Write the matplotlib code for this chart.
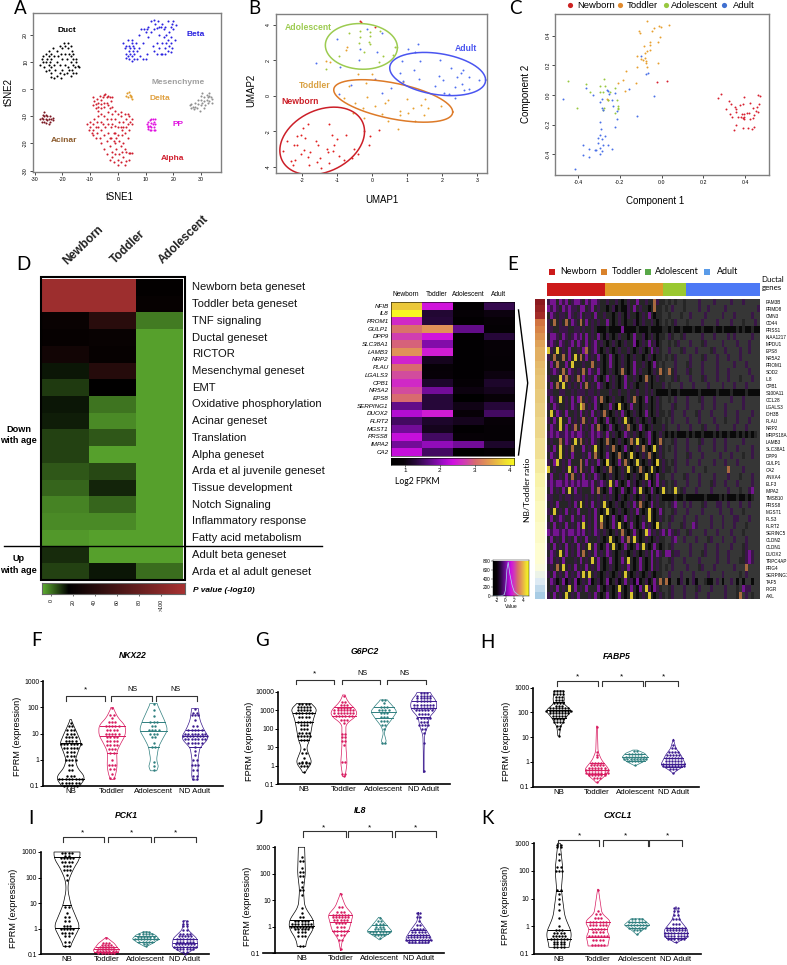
import numpy as np
import matplotlib
matplotlib.use('Agg')
import matplotlib.pyplot as plt
from matplotlib.colors import LinearSegmentedColormap, ListedColormap
from matplotlib.patches import Rectangle
from matplotlib.ticker import NullLocator
from matplotlib.transforms import ScaledTranslation

plt.rcParams['font.family'] = ['Liberation Sans', 'DejaVu Sans']
plt.rcParams['axes.unicode_minus'] = False

W, H = 787, 965

# ---- panel A: tSNE clusters
duct = [(-28,9),(-27,10),(-27,12),(-26.5,8),(-26,10),(-26,13),(-25.5,11),(-25,7),(-25,9),(-25,12),(-25,14),(-24.5,10),(-24,6),(-24,8),(-24,11),(-24,13),(-23.5,15),(-23,9),(-23,12),(-23,4),(-22.5,7),(-22,5),(-22,10),(-22,14),(-21.5,12),(-21,6),(-21,9),(-21,16),(-20.5,4),(-20.5,13),(-20,7),(-20,11),(-20,15),(-19.5,5.5),(-19.5,17),(-19,9),(-19,13),(-19,16),(-18.5,11),(-18.5,6),(-18,15),(-18,17),(-18,8),(-17.5,13),(-17.5,7),(-17,10),(-17,12),(-17,16),(-17,5),(-16.5,7),(-16.5,14),(-16,9),(-16,11),(-16,13),(-16,6),(-15.5,8),(-15,10),(-15,11),(-15,6),(-14.5,8.5),(-14,8),(-24,4.5),(-26,6.5),(-27.5,11)]
beta = [(2,17),(2.5,15),(3,13),(3,16),(3,11.5),(3.5,18),(3.5,12),(4,14),(4,16),(4,11),(4.5,15),(4.5,13),(5,17),(5,18),(5,12),(5,10.5),(5.5,14),(5.5,16),(6,15),(6,11),(6,13),(6.5,17),(7,14),(7,11),(7.5,15),(7.5,20),(8,12),(8.5,22),(9,11),(9,17),(9.5,22),(10,11),(10,21),(10.5,22),(10.5,13),(11,19),(11,23),(12,21),(12,25),(12.5,16),(13,22),(13,14),(13,25.5),(13.5,24),(14,22.5),(14,17),(14,13),(14.5,25),(15,23),(15,20),(15,15),(15.5,23),(15.5,13),(16,24),(16,17),(16,13),(16.5,22),(16.5,19),(17,15),(17,23),(17,13),(17.5,20),(17.5,17),(18,25),(18,14),(18,18),(18.5,21),(18.5,16),(19,23),(19,17),(19,19),(19.5,24),(19.5,15),(20,22),(20,25),(21,23.5),(20.5,18),(19,13.5)]
alpha = [(-9,-3),(-9,-6),(-8.5,-4.5),(-8,-5.5),(-8,-7),(-7.5,-3.5),(-7,-5),(-7,-6.5),(-6.5,-2.5),(-6,-4),(-6,-5.5),(-6,-7),(-5.5,-3),(-5,-2),(-5,-5),(-5,-6.5),(-4.5,-1.8),(-4,-3),(-4,-5),(-3.5,-2.5),(-3.5,-6),(-3,-3),(-3,-7),(-2.5,-4.5),(-2,-3),(-2,-6.5),(-1,-8),
(-11,-13),(-10.5,-15),(-10,-12),(-10,-14),(-9.5,-16),(-9,-13),(-9,-15),(-9,-17),(-8.5,-11),(-8,-14),(-8,-18),(-7.5,-12),(-7.5,-16),(-7,-10),(-7,-14),(-6.5,-18),(-6,-9),(-6,-12),(-6,-15),(-6,-20),(-5.5,-13),(-5,-10),(-5,-17),(-5,-22),(-4.5,-14),(-4,-11),(-4,-19),(-4,-24),(-3.5,-8.5),(-3.5,-13),(-3.5,-16),(-3,-21),(-3,-26),(-2.5,-11),(-2.5,-14),(-2.5,-18),(-2,-9),(-2,-13),(-2,-23),(-2,-25),(-1.5,-16),(-1.5,-19),(-1.5,-27),(-1,-11),(-1,-13.5),(-1,-20),(-1,-24),(-0.5,-18),(-0.5,-22),(0,-9),(0,-14),(0,-17),(0,-26),(0,-28),(0.5,-12),(0.5,-19),(0.5,-24),(1,-10),(1,-14),(1,-21),(1,-27),(1.5,-15),(1.5,-17),(1.5,-23),(2,-12),(2,-14),(2,-20),(2,-25),(2.5,-9),(2.5,-16),(2.5,-22),(2.5,-28),(3,-11),(3,-14),(3,-23),(3,-26.5),(3.5,-9),(3.5,-13),(3.5,-18),(4,-10),(4,-15),(4,-23.5),(4,-26),(4.5,-12),(4.5,-23.5),(5,-11),(5,-13),(5,-23.5),(-1,-16),(-3,-18),(-7,-8),(1,-8.5)]
acinar = [(-28,-11),(-27.5,-10.5),(-27.5,-12),(-27,-9.5),(-27,-11),(-26.5,-8.5),(-26.5,-10),(-26.5,-12),(-26,-9.5),(-26,-11),(-26,-12.5),(-25.5,-10),(-25.5,-11.5),(-25,-11),(-25,-13),(-24.5,-10),(-24.5,-12),(-24,-11),(-23.5,-11.5),(-23.5,-10.5)]
delta = [(3,-2.5),(3.2,-1.5),(3.5,-3),(4,-1.2),(4.5,-2),(4.7,-3),(5,-3.5),(4.8,-2.5)]
pp = [(10.5,-13),(11,-12),(11,-14),(11.5,-11.5),(11.5,-13.5),(11.5,-15),(12,-11),(12,-12.5),(12,-14),(12,-15),(12.5,-11),(12.5,-13),(13,-12),(13,-14),(13,-15.2),(13.5,-11),(13.5,-15),(13.5,-13),(11,-14.5),(10.7,-13.7)]
mesen = [(26,-6),(26.5,-5.5),(26.5,-7),(27,-6.5),(27.5,-7.5),(28,-5),(28,-6.5),(28.5,-7),(29,-4),(29,-5.5),(29.5,-8),(30,-2.5),(30,-4),(30,-6),(30.5,-1.5),(30.5,-5),(31,-3),(31,-4.5),(31.5,-6),(32,-2),(32,-4),(32.5,-3),(32.5,-5),(33,-2.5),(33,-4.5),(33.5,-3),(34,-3.8),(34,-5),(33,-1.5),(31,-7)]

# ---- panel B: UMAP
b_newborn = [(-2.53,-3.1),(-2.42,-2.55),(-2.31,-3.67),(-2.25,-3.88),(-2.2,-3.62),(-2.23,-2.77),(-2.13,-2.79),(-2.13,-2.26),(-2.03,-2.24),(-2.03,-3.26),(-1.97,-1.8),(-1.91,-2.4),(-1.94,-3.06),(-1.83,-1.6),(-1.83,-3.45),(-1.79,-3.92),(-1.78,-3.18),(-1.61,-2.55),(-1.54,-2.77),(-1.56,-3.75),(-1.47,-3.53),(-1.44,-4.07),(-1.29,-3.02),(-1.22,-1.6),(-1.24,-3.2),(-1.23,-3.8),(-1.14,-2.2),(-1.11,-3.1),(-1.07,-2.8),(-0.99,-2.42),(-0.94,-3.4),(-0.81,-3.65),(-0.75,-2.2),(-0.57,-3.5),(-0.52,-3.0),(-0.4,-3.3),(-0.07,-2.8),(-0.04,-2.25),(0.21,-1.95),(-0.35,4.23),(-0.3,4.15),(0.1,3.9)]
b_toddler = [(-1.32,1.99),(-1.2,1.91),(-0.71,2.78),(-0.74,2.59),(-0.65,0.55),(-0.41,1.23),(0.01,1.23),(-0.16,0.74),(-0.8,-0.15),(-0.49,-0.4),(-0.25,-0.68),(-0.15,-0.08),(-0.53,-0.97),(-0.22,-1.25),(0.09,-0.55),(0.28,-1.02),(0.37,-0.4),(0.47,-0.23),(0.47,-1.44),(0.76,-1.87),(0.81,-0.87),(0.81,-1.06),(1.03,-0.96),(1.01,-0.19),(1.18,-0.68),(1.22,-1.44),(1.4,-0.53),(1.51,-0.19),(1.5,-1.1),(1.61,-0.68),(1.97,-0.57),(0.9,0.8)]
b_adolescent = [(-1.31,1.5),(-0.93,2.25),(-0.65,3.53),(-0.34,3.68),(-0.34,3.34),(-0.36,3.0),(-0.05,3.59),(-0.04,3.38),(-0.09,3.06),(-0.06,2.93),(-0.23,2.49),(0.32,2.25),(0.2,1.93),(0.6,2.3),(0.65,2.78),(0.23,3.65)]
b_adult = [(-1.6,1.83),(-1.01,3.19),(-0.92,1.64),(-0.6,0.59),(-0.94,0.09),(-0.36,2.02),(-0.34,2.64),(-0.15,3.75),(0.1,0.95),(0.3,3.57),(0.15,2.48),(0.3,0.17),(0.56,0.42),(0.8,1.31),(0.85,1.97),(0.9,0.81),(1.02,2.64),(1.32,2.92),(1.22,2.49),(1.38,1.96),(1.2,1.45),(1.34,0.95),(1.94,2.02),(1.8,0.57),(1.93,1.11),(2.03,0.89),(2.05,0.17),(2.19,0.1),(2.25,1.59),(2.38,0.51),(2.43,1.08),(2.55,1.3),(2.6,1.46),(2.58,0.66),(2.64,0.32),(2.77,0.38),(2.78,1.06),(3.07,0.9),(2.38,-0.13)]
# cx, cy, rx, ry, rho
ell_newborn = (-1.42,-2.55,1.21,1.91,0.28)
ell_toddler = (0.61,-0.29,1.70,1.20,-0.52)
ell_adolescent = (-0.30,2.79,1.03,1.29,-0.05)
ell_adult = (1.88,1.23,1.37,1.22,-0.28)

# ---- panel C: components
c_newborn = [(0.268,-0.018),(0.282,0.009),(0.32,-0.043),(0.331,-0.061),(0.309,-0.094),(0.328,-0.13),(0.336,-0.146),(0.35,-0.083),(0.354,-0.094),(0.354,-0.112),(0.365,-0.146),(0.373,-0.065),(0.384,-0.128),(0.387,-0.058),(0.394,-0.016),(0.378,-0.15),(0.39,-0.157),(0.394,-0.146),(0.395,-0.13),(0.394,-0.164),(0.408,-0.123),(0.416,-0.123),(0.422,-0.056),(0.421,-0.164),(0.437,-0.085),(0.441,-0.134),(0.435,-0.157),(0.451,-0.108),(0.46,-0.112),(0.457,-0.078),(0.465,-0.063),(0.46,-0.002),(0.47,-0.007),(0.354,-0.204),(0.348,-0.233),(0.387,-0.222),(0.414,-0.22),(0.432,-0.227),(0.443,-0.215),(-0.022,0.087),(0.027,0.096)]
c_toddler = [(-0.069,0.498),(-0.107,0.428),(-0.104,0.415),(-0.013,0.462),(-0.005,0.457),(-0.037,0.448),(-0.045,0.428),(0.034,0.468),(-0.008,0.392),(-0.016,0.354),(-0.056,0.354),(-0.056,0.338),(-0.086,0.327),(-0.072,0.296),(-0.054,0.305),(-0.078,0.28),(-0.116,0.262),(-0.081,0.251),(-0.089,0.235),(-0.1,0.24),(-0.075,0.229),(-0.075,0.217),(-0.018,0.217),(-0.116,0.188),(-0.07,0.19),(-0.171,0.164),(-0.206,0.083),(-0.185,0.101),(-0.121,0.081),(-0.177,0.027),(-0.26,-0.027),(-0.254,-0.034)]
c_adolescent = [(-0.446,0.096),(-0.362,0.074),(-0.34,0.02),(-0.295,0.063),(-0.277,0.105),(-0.271,0.063),(-0.292,0.022),(-0.282,0.02),(-0.247,0.018),(-0.223,0.047),(-0.214,-0.034),(-0.21,-0.072),(-0.21,-0.087),(-0.21,-0.096),(-0.223,-0.123),(-0.274,-0.085),(-0.282,-0.101),(-0.255,-0.034),(-0.402,-0.087)]
c_adult = [(-0.473,-0.029),(-0.363,0.047),(-0.327,0.002),(-0.26,0.034),(-0.258,0.025),(-0.25,0.007),(-0.284,-0.027),(-0.292,-0.049),(-0.285,-0.09),(-0.279,-0.101),(-0.237,-0.034),(-0.223,0.013),(-0.158,0.04),(-0.231,-0.074),(-0.212,-0.105),(-0.215,-0.164),(-0.222,-0.213),(-0.294,-0.184),(-0.291,-0.227),(-0.295,-0.269),(-0.285,-0.298),(-0.271,-0.274),(-0.304,-0.292),(-0.306,-0.321),(-0.282,-0.336),(-0.258,-0.336),(-0.236,-0.361),(-0.374,-0.336),(-0.349,-0.361),(-0.319,-0.37),(-0.314,-0.372),(-0.295,-0.359),(-0.284,-0.374),(-0.295,-0.395),(-0.377,-0.404),(-0.345,-0.415),(-0.413,-0.5),(-0.116,-0.139),(-0.037,-0.009),(-0.1,0.262),(-0.075,0.141),(-0.065,0.146)]

# ---- panel D: enrichment heatmap
d_genesets = ['Newborn beta geneset','Toddler beta geneset','TNF signaling','Ductal geneset','RICTOR','Mesenchymal geneset','EMT','Oxidative phosphorylation','Acinar geneset','Translation','Alpha geneset','Arda et al juvenile geneset','Tissue development','Notch Signaling','Inflammatory response','Fatty acid metabolism','Adult beta geneset','Arda et al adult geneset']
d_values = [[115,115,18],[115,115,20],[22,42,-1],[20,21,-6],[28,20,-6],[13,40,-6],[8,17,-6],[13,0,-6],[12,-3,-6],[7,4,-6],[7,-6,-6],[4,6,-6],[2,11,-6],[-2,2,-6],[-3,-3,-6],[-5,-6,-6],[10,-6,-6],[7,13,1]]
d_ticks = [0,20,40,60,80,100]
d_ticklabels = ['0','20','40','60','80','>100']

# ---- inset heatmap
fpkm_genes = ['NFIB','IL8','PROM1','GULP1','DPP9','SLC38A1','LAMB3','NRP2','PLAU','LGALS3','CPB1','NR5A2','EPS8','SERPING1','DUOX2','FLRT2','MGST1','PRSS8','IMPA2','CA2']
fpkm_groups = ['Newborn','Toddler','Adolescent','Adult']
fpkm_values = [[3.7,2.4,0.7,1.4],[4.1,1.25,0.85,1.0],[2.55,1.3,0.7,0.9],[3.05,3.3,1.7,0.8],[2.7,2.4,0.7,1.3],[2.95,1.9,0.7,0.9],[3.3,2.45,0.7,0.9],[2.5,1.1,0.7,0.85],[3.0,0.9,0.7,0.85],[2.8,0.95,0.7,1.0],[2.55,1.2,0.85,1.2],[2.8,1.8,1.0,1.1],[3.0,1.3,0.65,0.95],[1.7,1.3,1.05,1.3],[2.2,2.45,0.95,1.5],[1.5,1.2,1.1,0.95],[1.8,1.1,0.7,0.85],[2.3,1.5,0.9,0.85],[1.8,2.0,1.8,1.2],[2.3,1.5,0.65,0.75]]

# ---- panel E: single cell heatmap, one char per block of cells
e_genes = ['FAM3B','PRMD8','CMN3','CD44','PRSS1','KIAA1217','MPDU1','EPS8','NR5A2','PROM1','SOD2','IL8','CPB1','S100A11','CCL28','LGALS3','IDH3B','PLAU','NRP2','MRPS18A','LAMB3','SLC38A1','DPP9','GULP1','CA2','ANXA4','ELF3','IMPA2','TMSB10','PRSS8','MGST1','PLS3','FLRT2','SERINC5','CLDN2','CLDN1','DUOX2','TRPC4AP','PRG4','SERPING1','TAF5','PIGR','AXL']
e_ratio = [4.0,3.9,3.8,3.3,3.2,3.1,3.0,2.9,2.9,2.8,2.7,2.6,2.6,2.5,2.5,2.4,2.4,2.3,2.3,2.3,2.2,2.2,2.2,2.1,2.1,2.0,2.0,1.9,1.9,1.8,1.8,1.8,1.7,1.7,1.7,1.6,1.6,1.6,1.5,1.4,1.3,1.2,1.1]
e_rows = [
'pmm.mpm.pmmp.mpmmp..p..p.#.p..m..p..op..-.-.--.----p----p-----p---p-----',
'mpmp.mpmpp.mm.pm.p..#.p#.##p.m.p..#.o..-.-p---.----p--p-----p----------p',
'.mp.pp.mp.pm.pp.m..p..#.p.#p..#.p.m.#..--.---.--p----p-----p---p-----p--',
'p.o.p.o.mp.o.m.p.p..m.#.p.#..p#.p..p.#.-.-.p---.----p----p----p---.---p-',
'pp..ppp..pp.p..p.###.####m####.###.####..#.##.###.##.###.##.####.#.##.##',
'.mmp.mp.pmpm.m.p.m.#p.#.p..#.m..p#.p.#..-p.--.p-----p---p----p-p-----p--',
'pmp.mp.pm.mp.m.pm.p.#.p.#.p..m#.p.m.p#.--.-.p---p---.p-----p----p---p---',
'yp.y.p.m..p.mo.pm.#.p.#.p..p.#.p.#.m.p.--p---.p---p----.p---p----p--p---',
'p.o..o.m.y.o.m.p.m.#.m.#.p.#.p..#.p.#..-.-.p----p---.p---p---p---p------',
'.m.o..m.y...p..o.p.#.m.#.p.#.m..p.#.m.-.---p---.p---p----p-----p---p----',
'.pmp.o.mp.p.o.mp.m.#.p.#.o.#.m.p..#.p.o.-o.p---p.---p----p---p------p---',
'p...ypo.p.o.m.p.m.#.m.p.#.m..p.#.o.#.p..--.p.---p---.p---p---p---.---p--',
'.m.o.y.p.p.m.o.p.mp.#.p.#.m.p.#..p.#...p-.---p---p----p----p---p---p----',
'pp..pp..p.ppp.pp.p...p..p..p..p..p.p.####.##.######.#####.####.####.####',
'.mp.y.p.m.mo.p.pm.o.#.p..#.p.o.#.m.#.p.--.-p---p---.p---p-----p---p-----',
'p.mp..p.mp.yo.p.m.#..m.#y.#.m..#.p.#.p.---p.---p----p---p---p-----p-----',
'.y.mp.m..p.m.p.m.p.o.#.p.m.#.p.#.m.#.p..-.p---p---.p---p----p---p----p--',
'p.m.y..m.p.po.p.m.#.m.#.p.y.#.p.#.p.#..-.-p----p---p----p---.---p---p---',
'.mp.y.m.po.m.p.m.o.#.m.#.p.o.#.m.#.p...p.---p---p---.p---p-----p---p----',
'pmpmppmpmpmmp.pmpmp.m.p.#.mp.p.#.pm.#.p.#.#.###.#.##.###.#.##.##.#.#.#.',
'.p..o.mp.y.o.p.mp.#.o.#.p.#.o.y.#.m.#.o.--.p---p---.p---p---p-----p-----',
'p.m.y.p.o...m.p.y.#.p.o.#.m.#.p.o.#.y.p.-.-p---p---p----p---p---p----p--',
'.mp.y.p.m...p.m.o.#.m.#.o.#.y.#.p.o.#.p.---p---.p---p-----p---p---.--p--',
'p.my.p.m...o.m.p.m.#y.#.m.o.#.y.#.p.#y.p.-.p---p---p----p---p---p-------',
'y.p..p.y.m.o.p.m.#.p.o.#.p.y.#.o.#.y.#.p..-p-----p---.-------o----p-----',
'.m..p.m.o.p.m.p.mp.#.p.#.p.#.p.#.y.#.m..--p---.p---p----p----p---.---p--',
'pmpmmpmpmpmpmmpm.pmp.y.m.#.m.p#.p.m#.m.p.-.p---p---p---.p---p---p----p--',
'.m.p.m.y.m.p...m.o.#.m.#.m.#.m.y.#.m.#.y.-.y-.p---p----p-----p---.--pm--',
'pp..p.pp.ppp.p.p.p.p.p.#p.#.p.#.p.#p.p.####.##.######.####.#.###.##.#.--',
'.p.m...p.m.y.p.m.p.y.#.p.#.p.m.o.#.m.p..-.pm--p-p---.p---pp--p---p--p---',
'p.y.p.m.p.m...p.m.#.y.#.p.#.p.m.#.y.#.m.--.p---p----p-----p---p---.-----',
'.m.pmp..m.p.m.p.m.y.#.m.#.m.p.#.p.y.#.p.-.p---p---p----p---p---pp---p---',
'p.m.p.m.p.m.y.p.m.o.#.m.y.#.m.#.m.p.#y.--p---.p--mp----p---p---p---.----',
'mpmmpmpmmpmpm.p.mp.p.#.p.o.#.m.#.ym.p.pm.mp.p--.p----p---p----p---.-----',
'.m.p.m.p.m.p.m...p.#.y.#.m.o.y.#.p.#.p..--pm--p---p---.p---p---p---p----',
'p.m.p.m.p.m.p.y.m.#.m.y.#.m.#.m.y.#.m.#.-.p-----p----p---p----p---.p----',
'.mp.y.m.p.m.o.p.m.p.mp.#.p.#.p.#.p.m.mp.mm.pp---p---.p---p---p----.pmp--',
'pm.p.m...p.m.p.y.m.#.m.#.m.y.#.m.#.m.p.--.p---p----p-----p---p---..pmp--',
'.p.o.y.p.m.p.m.p.m.#.p.#.p.m.#.m.#.m.p.-.-p----p---.p---p------p---o----',
'p.m.p.m.p.m.y.y.p.#.p.#.p.y.#.p.#.p.#..--p---p---p----p----p-----.-p----',
'.mp#.m#p.m#.p.m#.p#.m#.p#.m.p#m#.p#.m.o.o#--#p-#-p#--.##-p-#--p-#-#--#--',
'.p.m.p.y.m.p.m...m.#p.#.y.#.m.#m.yp#mp.--.p---p---.p---p----p---.-mpp---',
'p.m.p.y.p.m...p.m.#.m.#.m.#.y.#.p.y.#.p.-.p---p---p---p-----p---.o-p-.--',
]
e_band_edges = [547,604.7,663.3,686,760]

key_x = [-3,-2,-1,-0.3,0,0.3,0.6,1,1.5,2,3,4,5]
key_y = [0,0,5,30,150,600,780,500,250,100,20,3,0]

# ---- panels F-K, violins: outline = (log10 value, half width), rows = (log10 value, n points)
F_NB = dict(outline=[(1.53,.01),(1.2,.1),(1.0,.16),(.62,.26),(.4,.2),(0,.11),(-.3,.16),(-.65,.34),(-.85,.3),(-1,.2)], q=[.62,-.75], rows=[(1.4,1),(1.3,2),(1.15,3),(1,3),(.85,4),(.7,4),(.6,7),(.45,5),(.3,3),(.15,3),(0,4),(-.2,2),(-.4,2),(-.6,3),(-.75,8),(-.9,6),(-1,5)])
F_TD = dict(outline=[(1.99,.02),(1.6,.14),(1.3,.32),(.94,.32),(.6,.2),(.3,.11),(-.27,.12),(-.6,.08),(-.75,.04)], q=[1.29,.92,.27], rows=[(1.98,1),(1.7,2),(1.6,1),(1.45,3),(1.3,5),(1.15,4),(1,5),(.85,4),(.7,4),(.55,4),(.4,3),(.25,2),(0,1),(-.2,3),(-.35,2),(-.55,1),(-.7,2)])
F_AD = dict(outline=[(2.14,.08),(2,.12),(1.44,.28),(1.13,.34),(.8,.22),(.49,.12),(0,.07),(-.33,.13),(-.42,.05)], q=[1.44,1.09,.49], rows=[(2.12,1),(1.9,1),(1.65,1),(1.45,3),(1.3,2),(1.15,4),(1,3),(.85,2),(.65,1),(.5,2),(-.1,1),(-.25,1),(-.4,1)])
F_AU = dict(outline=[(1.95,.08),(1.5,.12),(1.13,.22),(.87,.33),(.65,.25),(.49,.12),(0,.07),(-.7,.08),(-.77,.05)], q=[1.15,.9,.47], rows=[(1.95,1),(1.8,2),(1.7,3),(1.5,1),(1.3,2),(1.15,5),(1,7),(.9,8),(.8,7),(.65,5),(.5,1),(.35,1),(.2,1),(0,2),(-.2,3),(-.4,2),(-.6,2),(-.75,2)])

G_NB = dict(outline=[(3.38,.15),(3.12,.33),(2.76,.27),(2.4,.22),(1.4,.14),(.96,.06),(.18,.2),(-.36,.02)], q=[2.85,2.36,1.41], rows=[(3.35,4),(3.2,5),(3.05,5),(2.85,6),(2.65,4),(2.36,5),(2.2,3),(2,3),(1.8,4),(1.6,5),(1.4,3),(.9,1),(.7,2),(.45,1),(.2,2),(.15,4),(0,3),(-.35,1)])
G_TD = dict(outline=[(3.84,.02),(3.4,.12),(3,.33),(2.67,.32),(2.3,.05),(1.77,.05),(1.05,.05),(.14,.08),(-.58,.03)], q=[3.17,2.7], rows=[(3.8,1),(3.45,2),(3.3,3),(3.15,5),(3,7),(2.85,7),(2.7,6),(2.5,3),(2.3,1),(1.75,2),(1.55,2),(1.35,2),(1.15,1),(.2,2),(-.45,2),(-.55,1)])
G_AD = dict(outline=[(3.57,.08),(3.3,.2),(2.94,.33),(2.58,.22),(2.13,.06),(1.77,.01),(1.26,.07),(1.19,.0)], q=[3.18,2.9,2.58], rows=[(3.56,2),(3.4,1),(3.2,3),(3,4),(2.85,3),(2.65,3),(2.45,3),(2.2,2),(2,1),(1.25,2)])
G_AU = dict(outline=[(3.97,.15),(3.48,.33),(3.03,.32),(2.67,.14),(2.13,.1),(1.68,.02),(.69,.01),(-.36,.01)], q=[3.52,3.12,2.62], rows=[(3.95,3),(3.8,5),(3.65,5),(3.5,5),(3.3,7),(3.15,7),(3,6),(2.8,4),(2.6,5),(2.4,3),(2.2,4),(2,2),(1.8,1),(1.25,1),(-.3,1)])

H_NB = dict(outline=[(2.87,.12),(2.5,.15),(2.37,.12),(2.07,.34),(1.76,.17),(1.43,.05),(1.05,.02)], q=[2.44,2.1,1.79], rows=[(2.85,4),(2.75,4),(2.62,3),(2.5,3),(2.4,4),(2.25,3),(2.17,7),(2.07,9),(1.97,7),(1.85,5),(1.75,4),(1.6,4),(1.45,2),(1.32,1),(1.05,1)])
H_TD = dict(outline=[(1.45,.01),(.42,.03),(.08,.12),(-.32,.33),(-.59,.2),(-.82,.01)], q=[-.03,-.32,-.5], rows=[(1.42,1),(.42,1),(.3,1),(.2,1),(-.03,4),(-.13,5),(-.23,6),(-.33,8),(-.43,8),(-.53,6),(-.65,3),(-.8,1)])
H_AD = dict(outline=[(.48,.05),(.35,.25),(.19,.34),(.01,.22),(-.15,.01)], q=[.32,.19,.05], rows=[(.45,2),(.33,5),(.22,7),(.12,8),(.02,5),(-.13,1)])
H_AU = dict(outline=[(.92,.0),(.55,.07),(.28,.2),(-.12,.33),(-.32,.12),(-.46,.0)], q=[.15,-.08,-.22], rows=[(.87,1),(.7,1),(.58,2),(.4,4),(.28,5),(.15,6),(.03,6),(-.08,8),(-.18,8),(-.3,3),(-.43,1)])

I_NB = dict(outline=[(3,.33),(2.75,.33),(2.36,.17),(1.9,.04),(1.51,.02),(.93,.1),(.08,.33),(-.31,.2),(-.7,.08)], q=[2.79,.93,.04], rows=[(2.98,4),(2.85,2),(2.75,5),(2.6,4),(2.45,3),(2.3,3),(2.1,1),(1.9,1),(.85,2),(.6,1),(.45,2),(.3,2),(.1,3),(-.02,5),(-.15,4),(-.3,2),(-.5,2),(-.68,2)])
I_TD = dict(outline=[(-.34,.01),(-.57,.2),(-.83,.33),(-1,.28)], q=[-.7,-.8,-.92], rows=[(-.37,1),(-.55,3),(-.63,4),(-.72,5),(-.8,6),(-.88,7),(-.96,6)])
I_AD = dict(outline=[(-.12,.05),(-.25,.25),(-.4,.34),(-.55,.2),(-.7,.02)], q=[-.27,-.4,-.53], rows=[(-.13,3),(-.22,5),(-.31,6),(-.4,8),(-.5,5),(-.6,2),(-.68,1)])
I_AU = dict(outline=[(.31,.03),(-.05,.08),(-.38,.3),(-.7,.33),(-.99,.03)], q=[-.4,-.55,-.7], rows=[(.3,2),(.2,2),(.1,2),(-.05,2),(-.2,4),(-.3,5),(-.4,6),(-.5,6),(-.6,7),(-.7,8),(-.8,6),(-.9,2),(-.98,1)])

J_NB = dict(outline=[(3,.08),(2.02,.1),(1.39,.05),(.76,.08),(.19,.33),(-.13,.3),(-.44,.15),(-.76,.1)], q=[.25,.03], rows=[(2.65,1),(2.5,2),(2.2,1),(2.05,2),(1.9,2),(1.7,1),(1.5,1),(1.4,2),(1.2,1),(.7,1),(.5,1),(.35,2),(.2,5),(.1,7),(0,8),(-.1,5),(-.2,3),(-.35,3),(-.75,2)])
J_TD = dict(outline=[(1.26,.0),(.76,.13),(.44,.32),(-.13,.22),(-.5,.05),(-.91,.0)], q=[.44,.19,-.15], rows=[(1.22,1),(.75,2),(.55,3),(.45,6),(.35,6),(.25,5),(.12,4),(0,3),(-.15,5),(-.3,3),(-.5,2),(-.85,1)])
J_AD = dict(outline=[(.35,.02),(.06,.18),(-.19,.33),(-.38,.12),(-.5,.0)], q=[.06,-.15,-.29], rows=[(.33,1),(.2,2),(.1,3),(0,3),(-.1,4),(-.2,7),(-.3,4),(-.42,1)])
J_AU = dict(outline=[(.54,.0),(.19,.04),(-.13,.2),(-.44,.33),(-.63,.25)], q=[-.13,-.32,-.5], rows=[(.5,2),(.35,2),(.2,1),(.05,2),(-.1,4),(-.2,5),(-.3,6),(-.4,8),(-.5,9),(-.6,7)])

K_NB = dict(outline=[(3,.03),(2.04,.1),(1.32,.06),(.35,.15),(-.25,.33),(-.76,.25)], q=[1.26,-.13,-.46], rows=[(2.95,2),(2.85,2),(2.6,1),(2.4,1),(2.15,2),(2,3),(1.3,2),(1.15,1),(1,1),(.8,1),(.6,1),(.3,1),(0,1),(-.15,3),(-.25,4),(-.35,5),(-.45,6),(-.55,4),(-.65,4),(-.76,4)])
K_TD = dict(outline=[(1.34,.01),(.47,.1),(.17,.33),(-.13,.22),(-.37,.3),(-.71,.25)], q=[.17,-.11,-.37], rows=[(1.32,1),(.55,1),(.45,2),(.3,3),(.15,6),(.05,6),(-.08,5),(-.2,4),(-.35,7),(-.5,4),(-.68,5)])
K_AD = dict(outline=[(.27,.15),(.05,.33),(-.16,.12),(-.31,.0)], q=[.17,.05,-.07], rows=[(.25,4),(.15,6),(.05,7),(-.05,6),(-.15,3),(-.28,1)])
K_AU = dict(outline=[(.71,.0),(.23,.1),(-.13,.3),(-.37,.3),(-.59,.02)], q=[-.07,-.25,-.41], rows=[(.68,2),(.55,2),(.4,2),(.25,3),(.1,3),(-.05,7),(-.15,7),(-.25,8),(-.35,8),(-.45,6),(-.58,1)])

violin_labels = ['NB','Toddler','Adolescent','ND Adult']
violin_colors = ['black','#D81B60','#2F7F7F','#3B1A8F']

RED, ORANGE, GREEN, BLUE = '#CC2222', '#E08A2E', '#98C840', '#3F6FD0'

fig = plt.figure(figsize=(W/100, H/100), dpi=100)


def px_axes(l, t, r, b, **kw):
    return fig.add_axes([l/W, 1-b/H, (r-l)/W, (b-t)/H], **kw)


def scatter_frame(ax, xt, yt, xl, yl):
    ax.set_xlim(*xl)
    ax.set_ylim(*yl)
    ax.set_xticks(xt)
    ax.set_yticks(yt)
    ax.tick_params(length=2, width=.5, labelsize=3.8, pad=1.5)
    plt.setp(ax.get_yticklabels(), rotation=90, va='center')
    for s in ax.spines.values():
        s.set_color('#808080')
        s.set_linewidth(1)


def dots(ax, pts, color, s=2.2):
    p = np.array(pts)
    ax.scatter(p[:, 0], p[:, 1], s=s, c=color, lw=0)


# A
axA = px_axes(33, 13, 221, 172)
scatter_frame(axA, range(-30, 31, 10), range(-30, 21, 10), (-30.6, 37.2), (-30.5, 28))
for pts, col in [(duct, 'black'), (beta, '#2A22E0'), (alpha, '#D02030'), (acinar, '#7A1520'),
                 (delta, '#E09A28'), (pp, '#E010E0'), (mesen, '#909090')]:
    dots(axA, pts, col)

# B
axB = px_axes(276, 14, 487, 173)
scatter_frame(axB, range(-2, 4), range(-4, 5, 2), (-2.74, 3.29), (-4.36, 4.62))
for pts, col in [(b_newborn, '#E02020'), (b_toddler, '#E8A030'), (b_adolescent, '#A0C840'), (b_adult, '#5070F0')]:
    dots(axB, pts, col, 2)
t = np.linspace(0, 2*np.pi, 200)
for (cx, cy, rx, ry, rho), col in [(ell_newborn, '#CC1F28'), (ell_toddler, '#DD7A28'),
                                   (ell_adolescent, '#9CCB50'), (ell_adult, '#4A55F0')]:
    axB.plot(cx + rx*np.cos(t), cy + ry*(rho*np.cos(t) + np.sqrt(1-rho**2)*np.sin(t)), color=col, lw=1.1)

# C
axC = px_axes(555.3, 14.3, 769.3, 175)
scatter_frame(axC, [-.4, -.2, 0, .2, .4], [-.4, -.2, 0, .2, .4], (-.508, .515), (-.538, .543))
axC.set_xticklabels(['-0.4', '-0.2', '0.0', '0.2', '0.4'])
axC.set_yticklabels(['-0.4', '-0.2', '0.0', '0.2', '0.4'])
for pts, col in [(c_newborn, '#D82030'), (c_toddler, '#E8A030'), (c_adolescent, '#98C840'), (c_adult, '#4A70E8')]:
    dots(axC, pts, col, 2)

# D
d_cmap = LinearSegmentedColormap.from_list('pval', [(0, '#5CAB30'), (24/130, '#000000'), (1, '#A83232')])
axD = px_axes(42.3, 279, 183.3, 580)
axD.imshow(d_values, cmap=d_cmap, vmin=-8, vmax=122, aspect='auto', interpolation='nearest')
axD.axis('off')
axDc = px_axes(42, 583, 185, 594)
axDc.imshow([np.linspace(-8, 122, 260)], cmap=d_cmap, vmin=-8, vmax=122, aspect='auto', extent=(-8, 122, 0, 1))
axDc.set_yticks([])
axDc.set_xticks(d_ticks)
axDc.set_xticklabels(d_ticklabels, rotation=90, fontsize=3.8)
axDc.tick_params(length=1.5, width=.4, pad=2)
for s in axDc.spines.values():
    s.set_color('#666666')

# inset heatmap
fpkm_cmap = LinearSegmentedColormap.from_list('fpkm', [(0, '#000000'), (.1, '#080208'), (.2, '#28083C'), (.3, '#5A0C80'),
                                                       (.42, '#A00CC8'), (.5, '#D010E0'), (.6, '#D040B0'), (.68, '#D86A70'),
                                                       (.8, '#E4A050'), (.93, '#F0E030'), (1, '#F8F820')])
axH = px_axes(390.7, 301.7, 514.3, 455.7)
axH.imshow(fpkm_values, cmap=fpkm_cmap, vmin=.6, vmax=4.12, aspect='auto', interpolation='nearest')
axH.xaxis.tick_top()
axH.set_xticks(range(4))
axH.set_xticklabels(fpkm_groups, fontsize=4.8)
axH.set_yticks(range(20))
axH.set_yticklabels(fpkm_genes, fontsize=4.5, style='italic')
axH.tick_params(length=0, pad=1.5)
axH.tick_params(axis='x', pad=3)
for s in axH.spines.values():
    s.set_linewidth(.4)
axHc = px_axes(390.7, 457.7, 514.3, 465)
axHc.imshow([np.linspace(.6, 4.12, 200)], cmap=fpkm_cmap, vmin=.6, vmax=4.12, aspect='auto', extent=(.6, 4.12, 0, 1))
axHc.set_yticks([])
axHc.set_xticks([1, 2, 3, 4])
axHc.tick_params(labelsize=4.5, length=1.5, width=.4, pad=1)
for s in axHc.spines.values():
    s.set_linewidth(.4)

# E
chars = '#.-pmoy'
e_cols = ListedColormap(['#0A0A0A', '#262626', '#363636', '#3A1648', '#741490', '#A86A40', '#D8C430'])
e_mat = [[chars.index(c) for c in row.ljust(72, '-')[:72]] for row in e_rows]
axE = px_axes(547, 298.7, 760, 599)
axE.imshow(e_mat, cmap=e_cols, vmin=0, vmax=6, aspect='auto', interpolation='nearest')
axE.xaxis.set_visible(False)
axE.yaxis.tick_right()
axE.set_yticks(range(43))
axE.set_yticklabels(e_genes, fontsize=3.3)
axE.tick_params(length=0, pad=4)
for s in axE.spines.values():
    s.set_visible(False)

side_cmap = LinearSegmentedColormap.from_list('side', [(0, '#A8CCE4'), (.07, '#E0ECF4'), (.15, '#FFFFD8'), (.32, '#F8F2A8'),
                                                       (.42, '#EBD488'), (.6, '#E4B868'), (.72, '#D98648'), (.82, '#C65A38'),
                                                       (.92, '#A8302A'), (1, '#8B1A20')])
axS = px_axes(535, 298.7, 545, 599)
axS.imshow(np.array(e_ratio).reshape(-1, 1), cmap=side_cmap, aspect='auto', interpolation='nearest')
axS.axis('off')

axBand = px_axes(547, 283.3, 760, 296)
axBand.set_xlim(547, 760)
axBand.set_ylim(0, 1)
axBand.axis('off')
for i, col in enumerate(['#CC1A1A', '#E09A28', '#9AC830', '#4D79F5']):
    axBand.bar(e_band_edges[i], 1, e_band_edges[i+1]-e_band_edges[i], align='edge', color=col, lw=0)

# density key
axK = px_axes(493, 560, 529, 596)
axK.imshow([np.linspace(.6, 4.12, 120)], cmap=fpkm_cmap, vmin=.6, vmax=4.12, aspect='auto', extent=(-2.9, 5.4, 0, 800))
axK.plot(key_x, key_y, color='#A8E0F0', lw=.5)
axK.set_xlim(-2.9, 5.4)
axK.set_ylim(0, 830)
axK.set_xticks([-2, 0, 2, 4])
axK.set_yticks([0, 200, 400, 600, 800])
axK.tick_params(labelsize=3.4, length=1.2, width=.3, pad=.6)
axK.set_xlabel('Value', fontsize=3.6, labelpad=.5)
for s in axK.spines.values():
    s.set_linewidth(.3)


# violins
def draw_violin(ax, i, v, color):
    o = np.array(v['outline'])
    ys, w = o[:, 0], o[:, 1]
    # soften the read-off outline so that it draws as a curve
    yy = np.linspace(ys[-1], ys[0], 90)
    ww = np.interp(yy, ys[::-1], w[::-1])
    ww = np.convolve(np.pad(ww, 4, mode='edge'), np.ones(9)/9, mode='valid')
    ax.fill(np.r_[i-ww, (i+ww)[::-1]], 10.0**np.r_[yy, yy[::-1]], fc='white', ec=color, lw=.5, clip_on=False, zorder=2)
    for q in v['q']:
        hw = np.interp(q, yy, ww)
        ax.plot([i-hw, i+hw], [10.0**q]*2, color=color, lw=.7, zorder=3)
    for lev, n in v['rows']:
        xs = i + (np.arange(n)-(n-1)/2)*.08
        ax.scatter(xs, [10.0**lev]*n, s=3, c=color, lw=0, zorder=4, clip_on=False)


def violin_panel(violins, l, t, r, b, c0, c3, top, low_shift=0):
    ax = px_axes(l, t, r, b)
    sp = (c3-c0)/3
    ax.set_xlim((l-c0)/sp, (r-c0)/sp)
    ax.set_yscale('log')
    ax.set_ylim(.1, top)
    for i, v in enumerate(violins):
        draw_violin(ax, i, v, violin_colors[i])
    ax.set_xticks(range(4))
    ax.set_xticklabels(violin_labels, fontsize=5.7)
    ticks = [10.0**e for e in range(-1, int(round(np.log10(top)))+1)]
    ax.set_yticks(ticks)
    ax.set_yticklabels(['0.1'] + [str(int(x)) for x in ticks[1:]], fontsize=4.9)
    ax.yaxis.set_minor_locator(NullLocator())
    ax.tick_params(axis='x', length=0, pad=1.5)
    ax.tick_params(axis='y', length=2, width=.7, pad=1)
    for s in ['top', 'right']:
        ax.spines[s].set_visible(False)
    ax.spines['left'].set_linewidth(1.2)
    ax.spines['bottom'].set_linewidth(1.2)
    ax.patch.set_alpha(0)
    if low_shift:
        lab = ax.get_yticklabels()[0]
        lab.set_transform(lab.get_transform() + ScaledTranslation(low_shift/100, 0, fig.dpi_scale_trans))


violin_panel([F_NB, F_TD, F_AD, F_AU], 43.3, 681, 222.7, 786, 70.7, 195, 1000)
violin_panel([G_NB, G_TD, G_AD, G_AU], 278.3, 692, 450, 784.3, 304, 423.7, 10000)
violin_panel([H_NB, H_TD, H_AD, H_AU], 533.3, 687.7, 699, 786.7, 558.7, 673.3, 1000)
violin_panel([I_NB, I_TD, I_AD, I_AU], 41, 852, 209, 954.3, 67, 185, 1000)
violin_panel([J_NB, J_TD, J_AD, J_AU], 275, 847.3, 444, 953, 301.5, 418.5, 1000, low_shift=-11)
violin_panel([K_NB, K_TD, K_AD, K_AU], 533.5, 843.3, 701, 954, 559, 676, 1000)

# overlay in image pixels for the annotations
ov = fig.add_axes([0, 0, 1, 1], zorder=10)
ov.set_xlim(0, W)
ov.set_ylim(H, 0)
ov.axis('off')
ov.patch.set_alpha(0)


def txt(x, y, s, size, **kw):
    kw.setdefault('ha', 'center')
    kw.setdefault('va', 'center')
    ov.text(x, y, s, fontsize=size, **kw)


for s, x, y in [('A', 20, 8), ('B', 254, 8), ('C', 515, 8), ('D', 23, 264), ('E', 513, 265), ('F', 36.7, 640),
                ('G', 261.7, 640), ('H', 487, 642), ('I', 31, 818), ('J', 260, 818), ('K', 487.5, 818)]:
    txt(x, y, s, 13.5, family=['Lato', 'DejaVu Sans'])

# A labels
txt(120, 197, 'tSNE1', 7)
txt(9, 92, 'tSNE2', 7, rotation=90)
for s, x, y, c in [('Duct', 67, 30, 'black'), ('Beta', 196, 35, '#2A22E0'), ('Mesenchyme', 178, 82, '#A0A0A0'),
                   ('Delta', 160, 98, '#E0A040'), ('PP', 178, 124, '#E010E0'), ('Acinar', 64, 141, '#8B5A2B'),
                   ('Alpha', 173, 158, '#D02030')]:
    txt(x, y, s, 6, color=c, weight='bold')

# B labels
txt(381.7, 200, 'UMAP1', 7)
txt(251.7, 90, 'UMAP2', 7, rotation=90)
for s, x, y, c in [('Adolescent', 308, 28, '#9CCB50'), ('Adult', 465.7, 48.7, '#4A55F0'),
                   ('Toddler', 314.3, 86, '#D9A040'), ('Newborn', 299.7, 102, '#CC1F28')]:
    txt(x, y, s, 6.2, color=c, weight='bold')

# C labels and legend
txt(655, 201, 'Component 1', 7)
txt(525.7, 94, 'Component 2', 7, rotation=90)
for s, xd, xt, c in [('Newborn', 570, 577, RED), ('Toddler', 620, 627, ORANGE),
                     ('Adolescent', 666, 671, GREEN), ('Adult', 724, 733, BLUE)]:
    ov.scatter([xd], [5], s=14, c=c, lw=0)
    txt(xt, 5, s, 6.8, ha='left')

# D labels
for s, x, y in [('Newborn', 83, 245), ('Toddler', 128, 247), ('Adolescent', 184, 240)]:
    txt(x, y, s, 8.6, rotation=44, weight='bold', color='#222222')
ov.add_patch(Rectangle((41, 277), 144, 303, fill=False, ec='black', lw=1.5))
ov.plot([4, 322], [546.3, 546.3], color='black', lw=1)
for i, s in enumerate(d_genesets):
    txt(192, 279+16.72*(i+.5), s, 8.1, ha='left', color='#111111')
txt(18.5, 435, 'Down\nwith age', 6.6, weight='bold', linespacing=1.35)
txt(18.5, 564.5, 'Up\nwith age', 6.6, weight='bold', linespacing=1.35)
txt(193, 590, 'P value (-log10)', 6, ha='left', weight='bold', style='italic')

# inset labels
txt(417, 481, 'Log2 FPKM', 6.2, family=['Lato', 'DejaVu Sans'])
ov.plot([518.5, 527.7, 518.5], [310, 383, 455], color='black', lw=1)

# E labels
for s, xs, xt, c in [('Newborn', 552, 560.7, '#CC1A1A'), ('Toddler', 604, 611.7, '#D9822B'),
                     ('Adolescent', 647.7, 655, '#58A848'), ('Adult', 707, 716.7, '#5A9BE8')]:
    ov.add_patch(Rectangle((xs-3, 269), 6, 6, color=c, lw=0))
    txt(xt, 272, s, 6.4, ha='left', family=['Lato', 'DejaVu Sans'])
txt(761.7, 283.5, 'Ductal\ngenes', 5.7, ha='left', family=['Lato', 'DejaVu Sans'], linespacing=1.25)
txt(527, 490, 'NB/Toddler ratio', 6.1, rotation=90, family=['Lato', 'DejaVu Sans'])


def bracket(x0, x1, ytop, ybot, mark, xm, ym):
    ov.plot([x0, x0, x1, x1], [ybot, ytop, ytop, ybot], color='#333333', lw=.8)
    txt(xm, ym, mark, 5.2 if mark == 'NS' else 6)


def gene_panel(title, tx, ty, ylx, yly, brackets):
    txt(tx, ty, title, 6.2, weight='bold', style='italic')
    txt(ylx, yly, 'FPRM (expression)', 6.6, rotation=90)
    for b in brackets:
        bracket(*b)


gene_panel('NKX22', 133, 655, 18, 736.7, [(65.7, 105.3, 696, 700.7, '*', 85.7, 689.5), (110.7, 151.7, 696, 700.7, 'NS', 132, 689.5), (156, 196.7, 696, 700.7, 'NS', 175, 689.5)])
gene_panel('G6PC2', 364.3, 651, 250, 741.7, [(296, 333.7, 680, 684, '*', 314.3, 673.5), (341.7, 380, 680, 684, 'NS', 362, 673.5), (386.7, 425.7, 680, 684, 'NS', 404, 673.5)])
gene_panel('FABP5', 616.7, 656.7, 506.7, 741.7, [(557, 598, 681, 686, '*', 577.3, 677), (601.7, 642.7, 681, 686, '*', 621.7, 677), (645.3, 678.3, 681, 686, '*', 664, 677)])
gene_panel('PCK1', 126, 815, 14, 908, [(62.5, 104, 836.7, 842, '*', 82.5, 832.5), (108, 150.5, 836.7, 842, '*', 131, 832.5), (154, 196, 836.7, 842, '*', 175.5, 832.5)])
gene_panel('IL8', 360, 810.7, 247.5, 906.7, [(302.5, 345.5, 831.3, 837, '*', 323.5, 827.5), (347.5, 392, 831.3, 837, '*', 370, 827.5), (394.5, 436, 831.3, 837, '*', 415, 827.5)])
gene_panel('CXCL1', 617.5, 816, 506, 905, [(558, 599, 840.3, 845.7, '*', 580, 836), (603, 647.5, 840.3, 845.7, '*', 625, 836), (648.5, 681.5, 840.3, 845.7, '*', 667.5, 836)])
ov.plot([262.5, 275], [953, 953], color='black', lw=1.2)

fig.savefig('out.png', dpi=100)
